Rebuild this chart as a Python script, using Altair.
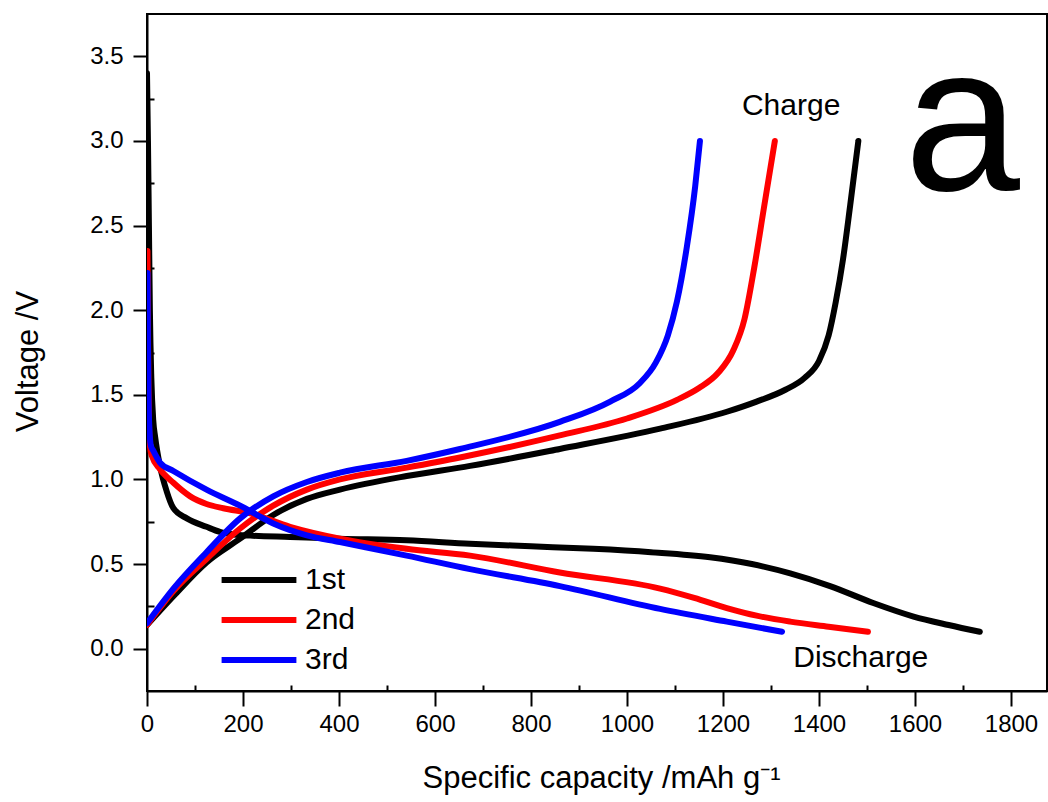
import altair as alt
import pandas as pd

# ---- data ----
cycles = ["1st", "2nd", "3rd"]
colors = ["#000000", "#ff0000", "#0000ff"]

d1_x = [0, 2, 4, 6, 9, 13, 17, 27, 41, 55, 83, 124, 152, 180, 215, 298, 402, 541, 673, 800, 930, 1050, 1173, 1260, 1340, 1423, 1513, 1597, 1670, 1735]
d1_y = [3.40, 3.0, 2.5, 2.0, 1.6, 1.35, 1.25, 1.08, 0.93, 0.83, 0.77, 0.72, 0.69, 0.675, 0.668, 0.66, 0.65, 0.64, 0.62, 0.605, 0.59, 0.57, 0.54, 0.50, 0.445, 0.37, 0.27, 0.19, 0.14, 0.10]
c1_x = [0, 55, 124, 194, 263, 333, 402, 541, 673, 860, 1069, 1208, 1270, 1330, 1370, 1400, 1420, 1435, 1450, 1465, 1482]
c1_y = [0.14, 0.31, 0.51, 0.65, 0.79, 0.885, 0.94, 1.02, 1.08, 1.18, 1.30, 1.40, 1.46, 1.53, 1.60, 1.70, 1.85, 2.05, 2.30, 2.62, 3.00]

d2_x = [1, 2, 3, 4, 6, 10, 27, 55, 90, 124, 159, 215, 298, 402, 541, 673, 860, 1069, 1140, 1208, 1270, 1340, 1420, 1502]
d2_y = [2.35, 1.9, 1.55, 1.35, 1.2, 1.14, 1.06, 0.98, 0.90, 0.855, 0.83, 0.80, 0.72, 0.65, 0.59, 0.55, 0.45, 0.355, 0.30, 0.24, 0.195, 0.16, 0.13, 0.10]
c2_x = [0, 55, 124, 194, 263, 333, 402, 541, 652, 860, 1000, 1104, 1150, 1190, 1221, 1245, 1265, 1285, 1308]
c2_y = [0.14, 0.34, 0.53, 0.71, 0.845, 0.94, 1.00, 1.07, 1.13, 1.26, 1.36, 1.47, 1.54, 1.63, 1.76, 1.95, 2.25, 2.60, 3.00]

d3_x = [1, 2, 3, 5, 8, 13, 27, 55, 124, 194, 263, 333, 402, 541, 673, 860, 1069, 1208, 1323]
d3_y = [2.22, 1.8, 1.5, 1.3, 1.2, 1.17, 1.10, 1.05, 0.94, 0.845, 0.74, 0.67, 0.63, 0.55, 0.47, 0.37, 0.235, 0.16, 0.10]
c3_x = [0, 55, 124, 194, 263, 333, 402, 541, 652, 860, 965, 1027, 1060, 1085, 1104, 1125, 1142, 1152]
c3_y = [0.15, 0.355, 0.57, 0.77, 0.90, 0.985, 1.04, 1.11, 1.18, 1.34, 1.46, 1.57, 1.69, 1.85, 2.05, 2.38, 2.73, 3.00]

x_ticks = [0, 200, 400, 600, 800, 1000, 1200, 1400, 1600, 1800]
x_minor = [100, 300, 500, 700, 900, 1100, 1300, 1500, 1700]
y_ticks = [0.0, 0.5, 1.0, 1.5, 2.0, 2.5, 3.0, 3.5]
y_minor = [0.25, 0.75, 1.25, 1.75, 2.25, 2.75, 3.25]

ann_text = ["Charge", "Discharge"]
ann_x = [1342, 1487]
ann_y = [3.156, -0.106]
panel_text = ["a"]
panel_x = [1698]
panel_y = [2.71]

# ---- build table ----
rows = []
series = [
    ("1st", "discharge", d1_x, d1_y), ("1st", "charge", c1_x, c1_y),
    ("2nd", "discharge", d2_x, d2_y), ("2nd", "charge", c2_x, c2_y),
    ("3rd", "discharge", d3_x, d3_y), ("3rd", "charge", c3_x, c3_y),
]
for cyc, br, xs, ys in series:
    for i, (xv, yv) in enumerate(zip(xs, ys)):
        rows.append({"cycle": cyc, "branch": br, "idx": i, "x": xv, "y": yv})
df = pd.DataFrame(rows)
ann = pd.DataFrame({"label": ann_text, "x": ann_x, "y": ann_y})
pan = pd.DataFrame({"label": panel_text, "x": panel_x, "y": panel_y})

FONT = "Liberation Sans"
xscale = alt.Scale(domain=[0, 1875], nice=False, zero=False)
yscale = alt.Scale(domain=[-0.25, 3.75], nice=False, zero=False)
cscale = alt.Scale(domain=cycles, range=colors)

main_x_axis = alt.Axis(
    orient="bottom", values=x_ticks, format="d", tickSize=15, tickWidth=2, tickColor="black",
    domainWidth=2, domainColor="black", labelFontSize=24, labelFont=FONT, labelColor="black",
    labelPadding=6, grid=False, title="Specific capacity /mAh g⁻¹", titleFont=FONT,
    titleFontSize=31, titleFontWeight="normal", titleColor="black", titleX=454, titleY=96,
    titleBaseline="alphabetic", titleAlign="center", labelFlush=False, labelOverlap=False,
)
main_y_axis = alt.Axis(
    orient="left", values=y_ticks, format=".1f", tickSize=14, tickWidth=2, tickColor="black",
    domainWidth=2, domainColor="black", labelFontSize=24, labelFont=FONT, labelColor="black",
    labelPadding=10, grid=False, title="Voltage /V", titleFont=FONT, titleFontSize=31,
    titleFontWeight="normal", titleColor="black", titleX=-110, titleY=347, titleAngle=270,
    titleBaseline="alphabetic", titleAlign="center", labelFlush=False, labelOverlap=False,
)

legend = alt.Legend(
    orient="none", legendX=87, legendY=541, title=None, symbolType="M-1.7,0H1.7",
    symbolSize=1936, symbolStrokeWidth=6, labelFontSize=30, labelFont=FONT,
    labelColor="black", rowPadding=0, labelOffset=21, padding=0,
)

layers = []
for k, cyc in enumerate(cycles):
    xa = main_x_axis if k == 0 else None
    ya = main_y_axis if k == 0 else None
    layer = alt.Chart(df).transform_filter(alt.datum.cycle == cyc).mark_line(
        strokeWidth=6, strokeCap="round", strokeJoin="round", interpolate="monotone", clip=True
    ).encode(
        x=alt.X("x:Q", scale=xscale, axis=xa),
        y=alt.Y("y:Q", scale=yscale, axis=ya),
        color=alt.Color("cycle:N", scale=cscale, legend=legend),
        detail="branch:N",
        order="idx:Q",
    )
    layers.append(layer)

minor = alt.Chart(df).mark_point(opacity=0).encode(
    x=alt.X("x:Q", scale=xscale, axis=alt.Axis(
        orient="bottom", values=x_minor, tickSize=6, tickWidth=2, tickColor="black",
        offset=-6, labels=False, domain=False, grid=False, title=None)),
    y=alt.Y("y:Q", scale=yscale, axis=alt.Axis(
        orient="left", values=y_minor, tickSize=7, tickWidth=2, tickColor="black",
        offset=-7, labels=False, domain=False, grid=False, title=None)),
)

ann_layer = alt.Chart(ann).mark_text(
    font=FONT, fontSize=30, color="black", align="center", baseline="alphabetic"
).encode(
    x=alt.X("x:Q", scale=xscale, axis=None),
    y=alt.Y("y:Q", scale=yscale, axis=None),
    text="label:N",
)
pan_layer = alt.Chart(pan).mark_text(
    font=FONT, fontSize=208, color="black", align="center", baseline="alphabetic"
).encode(
    x=alt.X("x:Q", scale=xscale, axis=None),
    y=alt.Y("y:Q", scale=yscale, axis=None),
    text="label:N",
)

chart = alt.layer(*layers, minor, ann_layer, pan_layer).resolve_axis(
    x="independent", y="independent"
).properties(
    width=900, height=677,
    autosize=alt.AutoSizeParams(type="none"),
    padding={"left": 147, "top": 14, "right": 1, "bottom": 111},
    background="white",
).configure_view(stroke="black", strokeWidth=2)

chart.save("out.html", embed_options={"renderer": "svg", "actions": False})
